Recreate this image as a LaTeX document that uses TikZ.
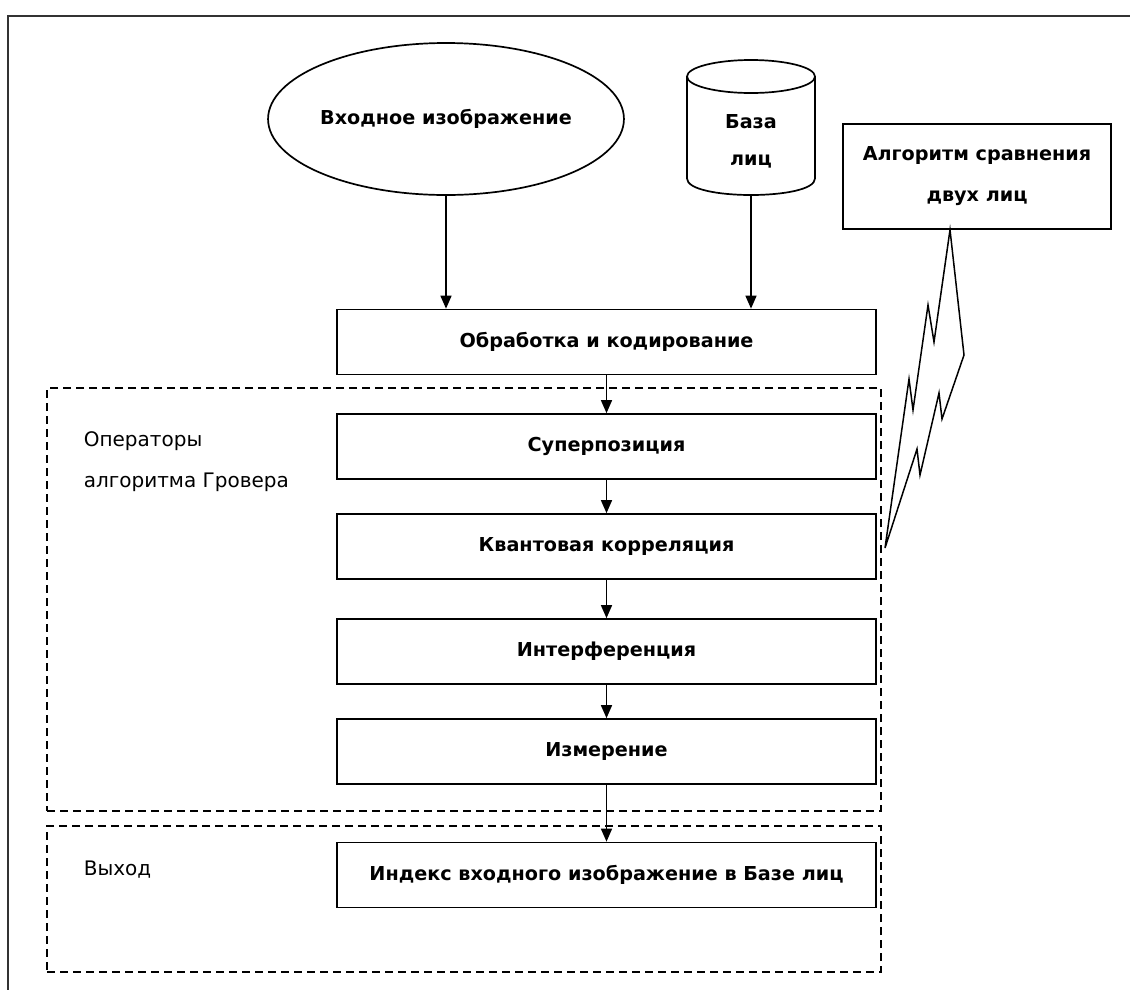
\documentclass[tikz,border=0pt]{standalone}
\usepackage{fontspec}
\setmainfont{DejaVu Sans}
\usetikzlibrary{arrows.meta,shapes.geometric}
\begin{document}
\begin{tikzpicture}[x=1pt,y=-1pt,
  line width=1.7pt,
  bt/.style={font=\fontsize{19.2}{41}\selectfont\bfseries},
  rt/.style={font=\fontsize{20}{41}\selectfont},
  pbox/.style={draw, rectangle, minimum width=539, minimum height=65, inner sep=0pt, bt},
  dashbox/.style={draw, rectangle, dash pattern=on 8pt off 5pt, line width=1.5pt, inner sep=0pt},
  arr/.style={-{Triangle[length=13pt,width=11pt]}, line width=1.5pt}]
\useasboundingbox (0,0) rectangle (1130,989);
% outer frame
\draw[line width=2.4pt, color=black!80] (8,1000) -- (8,16) -- (1140,16);
% group boxes
\node[dashbox, minimum width=834, minimum height=423] (g1) at (464,599.5) {};
\node[dashbox, minimum width=834, minimum height=146] (g2) at (464,899) {};
% input ellipse
\node[draw, ellipse, minimum width=350, minimum height=152, inner sep=0pt, bt] (in) at (446,119) {Входное изображение};
% database cylinder
\node[minimum width=128, minimum height=107, inner sep=0pt, align=center, font=\fontsize{19.2}{37}\selectfont\bfseries] (db) at (751,141.5) {База\\лиц};
\draw (751,76.5) ellipse [x radius=64, y radius=16.5];
\draw (687,76.5) -- (687,178.5) .. controls (687,200.5) and (815,200.5) .. (815,178.5) -- (815,76.5);
% algorithm box
\node[draw, rectangle, minimum width=268, minimum height=105, inner sep=0pt, align=center, bt] (alg) at (977,176.5) {Алгоритм сравнения\\двух лиц};
% process boxes
\node[pbox] (proc) at (606.5,342) {Обработка и кодирование};
\node[pbox] (sup) at (606.5,446.5) {Суперпозиция};
\node[pbox] (kv) at (606.5,546.5) {Квантовая корреляция};
\node[pbox] (intf) at (606.5,651.5) {Интерференция};
\node[pbox] (izm) at (606.5,751.5) {Измерение};
\node[pbox] (idx) at (606.5,875) {Индекс входного изображение в Базе лиц};
% labels
\node[rt, anchor=west, align=left, inner sep=0pt] (opl) at (83,462) {Операторы\\алгоритма Гровера};
\node[rt, anchor=west, inner sep=0pt] (outl) at (83,870) {Выход};
% arrows
\draw[arr] (in.south) -- (in.south |- proc.north);
\draw[arr] (db.south) -- (db.south |- proc.north);
\draw[arr] (proc.south) -- (sup.north);
\draw[arr] (sup.south) -- (kv.north);
\draw[arr] (kv.south) -- (intf.north);
\draw[arr] (intf.south) -- (izm.north);
\draw[arr] (izm.south) -- (idx.north);
% lightning
\coordinate (btop) at (alg.south -| 950,0);
\coordinate (btip) at (885,548);
\draw[line width=1.5pt, line join=miter] (btop) -- (964,355) -- (942,419) -- (939,393) -- (920,475) -- (917,449) -- (btip)
  -- (909,379) -- (913,410) -- (928,305) -- (934,342) -- cycle;
\end{tikzpicture}
\end{document}
